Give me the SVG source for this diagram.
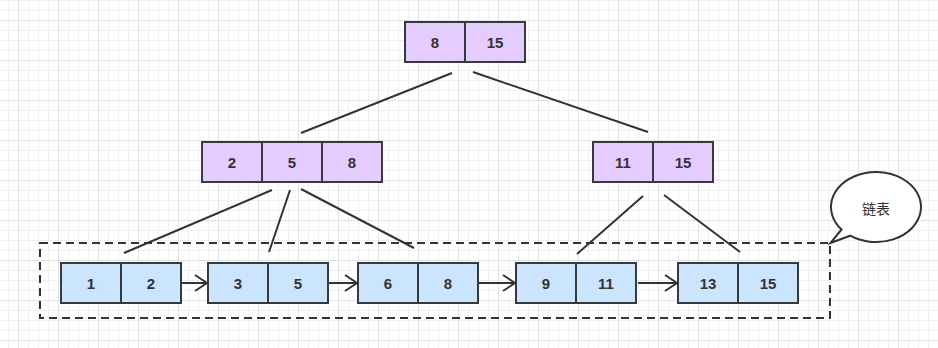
<svg xmlns="http://www.w3.org/2000/svg" width="938" height="348" viewBox="0 0 938 348">
<defs>
<pattern id="minor" x="8" y="0" width="10" height="10" patternUnits="userSpaceOnUse">
<path d="M0.5 0V10M0 0.5H10" fill="none" stroke="#f0f0f0" stroke-width="1"/>
</pattern>
<pattern id="major" x="18" y="20" width="40" height="40" patternUnits="userSpaceOnUse">
<path d="M0.5 0V40M0 0.5H40" fill="none" stroke="#e2e2e2" stroke-width="1"/>
</pattern>
<marker id="open" markerWidth="16" markerHeight="20" refX="13" refY="9" orient="auto" markerUnits="userSpaceOnUse">
<path d="M1 1L13 9L1 17" fill="none" stroke="#333333" stroke-width="2"/>
</marker>
</defs>
<style>
.p{fill:#e5ccff;stroke:#36393d;stroke-width:2}
.b{fill:#cce5ff;stroke:#36393d;stroke-width:2}
.t{font-family:"Liberation Sans",Arial,sans-serif;font-size:15px;font-weight:bold;fill:#333333;text-anchor:middle;dominant-baseline:central}
.e{fill:none;stroke:#333333;stroke-width:2}
.c{font-family:"Noto Sans CJK SC",sans-serif;font-size:14px;fill:#333333;text-anchor:middle;dominant-baseline:central}
</style>
<rect width="938" height="348" fill="#ffffff"/>
<rect width="938" height="348" fill="url(#minor)"/>
<rect width="938" height="348" fill="url(#major)"/>

<g id="list-frame">
<rect x="40" y="243" width="790" height="75" fill="none" stroke="#333333" stroke-width="2" stroke-dasharray="8 5"/>
</g>

<g id="connectors">
<line class="e" x1="452" y1="73" x2="301" y2="133"/>
<line class="e" x1="473" y1="72" x2="648" y2="132"/>
<line class="e" x1="272" y1="190" x2="124" y2="253"/>
<line class="e" x1="290" y1="190" x2="269" y2="252"/>
<line class="e" x1="301" y1="189" x2="414" y2="248"/>
<line class="e" x1="643" y1="196" x2="577" y2="254"/>
<line class="e" x1="664" y1="195" x2="740" y2="252"/>
<line class="e" x1="182" y1="283" x2="207" y2="283" marker-end="url(#open)"/>
<line class="e" x1="328" y1="283" x2="357" y2="283" marker-end="url(#open)"/>
<line class="e" x1="478" y1="283" x2="515" y2="283" marker-end="url(#open)"/>
<line class="e" x1="638" y1="283" x2="677" y2="283" marker-end="url(#open)"/>
</g>

<g id="root">
<rect class="p" x="405" y="22" width="60" height="40"/>
<rect class="p" x="465" y="22" width="60" height="40"/>
<text class="t" x="435" y="42">8</text>
<text class="t" x="495" y="42">15</text>
</g>

<g id="mid-left">
<rect class="p" x="202" y="142" width="60" height="40"/>
<rect class="p" x="262" y="142" width="60" height="40"/>
<rect class="p" x="322" y="142" width="60" height="40"/>
<text class="t" x="232" y="162">2</text>
<text class="t" x="292" y="162">5</text>
<text class="t" x="352" y="162">8</text>
</g>

<g id="mid-right">
<rect class="p" x="593" y="142" width="60" height="40"/>
<rect class="p" x="653" y="142" width="60" height="40"/>
<text class="t" x="623" y="162">11</text>
<text class="t" x="683" y="162">15</text>
</g>

<g id="leaf1">
<rect class="b" x="61" y="263" width="60" height="40"/>
<rect class="b" x="121" y="263" width="60" height="40"/>
<text class="t" x="91" y="283">1</text>
<text class="t" x="151" y="283">2</text>
</g>

<g id="leaf2">
<rect class="b" x="208" y="263" width="60" height="40"/>
<rect class="b" x="268" y="263" width="60" height="40"/>
<text class="t" x="238" y="283">3</text>
<text class="t" x="298" y="283">5</text>
</g>

<g id="leaf3">
<rect class="b" x="358" y="263" width="60" height="40"/>
<rect class="b" x="418" y="263" width="60" height="40"/>
<text class="t" x="388" y="283">6</text>
<text class="t" x="448" y="283">8</text>
</g>

<g id="leaf4">
<rect class="b" x="516" y="263" width="60" height="40"/>
<rect class="b" x="576" y="263" width="60" height="40"/>
<text class="t" x="546" y="283">9</text>
<text class="t" x="606" y="283">11</text>
</g>

<g id="leaf5">
<rect class="b" x="678" y="263" width="60" height="40"/>
<rect class="b" x="738" y="263" width="60" height="40"/>
<text class="t" x="708" y="283">13</text>
<text class="t" x="768" y="283">15</text>
</g>

<g id="callout">
<path d="M841.5 229.5A45 35 0 1 1 850.2 235.7L830.5 243Z" fill="#ffffff" stroke="#333333" stroke-width="2" stroke-linejoin="miter"/>
<text class="c" x="876" y="208">链表</text>
</g>
</svg>
